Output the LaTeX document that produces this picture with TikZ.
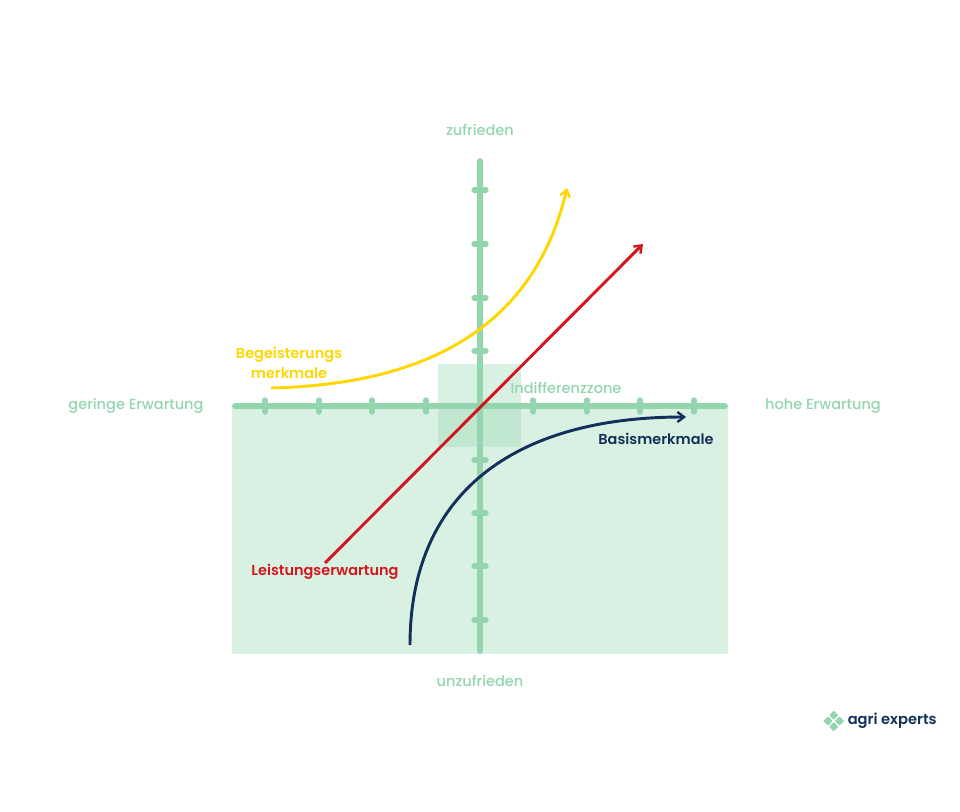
\documentclass[tikz,border=0pt]{standalone}
\usepackage{fontspec}
\setmainfont{Poppins Medium}[BoldFont={Poppins SemiBold}]
\usepackage{xcolor}
\definecolor{axisgreen}{HTML}{93D6AE}
\definecolor{navyblue}{HTML}{12305A}
\definecolor{curveyellow}{HTML}{FFD600}
\definecolor{curvered}{HTML}{D2161E}
\tikzset{
  axisline/.style={draw=axisgreen,line width=4.4pt,line cap=round},
  tickline/.style={draw=axisgreen,line width=4pt,line cap=round},
  curveline/.style={line width=2.2pt,-{Straight Barb[length=5pt,width=7.5pt,line width=1.8pt]}},
  areafill/.style={fill=axisgreen,fill opacity=0.35},
  axislabel/.style={inner sep=0.75pt,text=axisgreen,font=\fontsize{10.9}{13}\selectfont},
  curvelabel/.style={inner sep=0.75pt,align=center,font=\fontsize{10.85}{15}\selectfont\bfseries},
  logotile/.style={fill=axisgreen,rotate=45,minimum size=4.9pt,inner sep=0pt,outer sep=0pt,rounded corners=0.5pt}
}
\usetikzlibrary{arrows.meta}
\begin{document}
\begin{tikzpicture}[x=0.75pt,y=0.75pt,yscale=-1,xscale=1]
\useasboundingbox (0,0) rectangle (960,812);

%Shape: lower field and zone
\fill [areafill] (232,406) rectangle (728,654);
\fill [areafill] (438,364) rectangle (521,447);

%Shape: axes
\coordinate (left) at (235,406);
\coordinate (right) at (725,406);
\coordinate (top) at (480,161);
\coordinate (bottom) at (480,651);
\foreach \tx in {265,319,372,426,533,587,640,694}
  \draw [tickline] (\tx,400) -- (\tx,412);
\foreach \ty in {190,244,298,351,460,513,566,620}
  \draw [tickline] (474,\ty) -- (486,\ty);
\draw [axisline] (left) -- (right);
\draw [axisline] (top) -- (bottom);

%Shape: curves
\coordinate (yellowstart) at (271,388);
\coordinate (yellowend) at (567,188);
\coordinate (redstart) at (325,563);
\coordinate (redend) at (643,244);
\coordinate (bluestart) at (410,645);
\coordinate (blueend) at (686,417);
\draw [curveline,curveyellow] (yellowstart) .. controls (400,385) and (530,345) .. (yellowend);
\draw [curveline,curvered] (redstart) -- (redend);
\draw [curveline,navyblue] (bluestart) .. controls (410,495) and (512,417) .. (blueend);

% Text Node
\node [axislabel] (happy) at (480,130) {zufrieden};
\node [axislabel] (unhappy) at (480,681) {unzufrieden};
\node [axislabel] (lowexp) at (136,406) {geringe Erwartung};
\node [axislabel] (highexp) at (823,406) {hohe Erwartung};
\node [axislabel] (zone) at (566,388) {Indifferenzzone};
\node [curvelabel,text=curveyellow] (delight) at (289,363) {Begeisterungs\\merkmale};
\node [curvelabel,text=curvered] (perform) at (325,572) {Leistungserwartung};
\node [curvelabel,text=navyblue] (basic) at (656,439) {Basismerkmale};

% Logo
\node [logotile] (tilea) at (833.8,715.2) {};
\node [logotile] (tileb) at (833.8,726.8) {};
\node [logotile] (tilec) at (828,721) {};
\node [logotile] (tiled) at (839.6,721) {};
\node [anchor=west,inner sep=0.75pt,text=navyblue,font=\fontsize{11}{13}\selectfont\bfseries] (brand) at (846.5,721) {agri experts};
\end{tikzpicture}
\end{document}
